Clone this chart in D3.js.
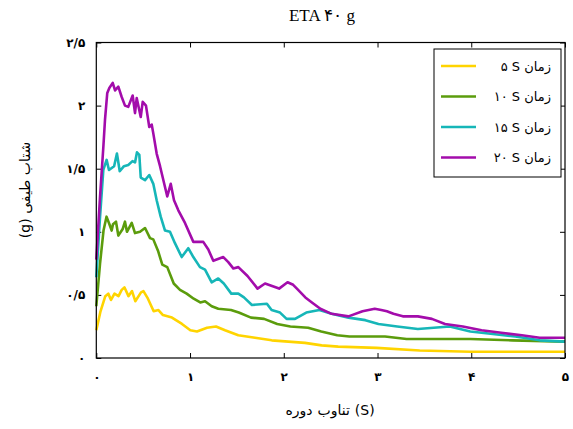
<!DOCTYPE html>
<meta charset="utf-8">
<script src="https://d3js.org/d3.v7.min.js"></script>
<style>
  body { margin: 0; background: #fff; }
  svg { font-family: 'Liberation Serif', 'DejaVu Sans', serif; }
</style>
<div id="chart"></div>
<script>
// period (s) and spectral acceleration (g)
var t5  = [0, 0.045, 0.096, 0.128, 0.157, 0.194, 0.237, 0.271, 0.30, 0.343, 0.381, 0.416, 0.477, 0.503, 0.551, 0.612, 0.663, 0.711, 0.807, 0.914, 1.003, 1.074, 1.181, 1.277, 1.373, 1.515, 1.693, 1.871, 2.048, 2.226, 2.404, 2.581, 2.99, 3.45, 3.99, 5.0];
var sa5 = [0.22, 0.37, 0.49, 0.51, 0.46, 0.51, 0.49, 0.54, 0.56, 0.49, 0.53, 0.45, 0.52, 0.53, 0.47, 0.37, 0.38, 0.34, 0.32, 0.27, 0.22, 0.21, 0.24, 0.25, 0.22, 0.18, 0.16, 0.14, 0.13, 0.12, 0.10, 0.09, 0.08, 0.06, 0.05, 0.05];

var t10  = [0, 0.04, 0.077, 0.109, 0.135, 0.164, 0.178, 0.21, 0.235, 0.28, 0.306, 0.327, 0.378, 0.413, 0.466, 0.52, 0.573, 0.608, 0.658, 0.704, 0.757, 0.826, 0.893, 0.964, 1.039, 1.109, 1.16, 1.231, 1.301, 1.437, 1.52, 1.65, 1.79, 1.93, 2.07, 2.26, 2.40, 2.57, 2.70, 2.87, 3.08, 3.31, 3.99, 4.44, 5.0];
var sa10 = [0.41, 0.75, 1.01, 1.12, 1.07, 1.01, 1.06, 1.08, 0.97, 1.02, 1.08, 1.00, 1.07, 0.99, 1.00, 1.03, 0.95, 0.94, 0.85, 0.74, 0.72, 0.59, 0.54, 0.51, 0.47, 0.44, 0.45, 0.41, 0.39, 0.38, 0.36, 0.32, 0.31, 0.27, 0.25, 0.24, 0.21, 0.18, 0.17, 0.17, 0.17, 0.15, 0.15, 0.14, 0.13];

var t15  = [0, 0.04, 0.075, 0.11, 0.135, 0.19, 0.22, 0.25, 0.295, 0.341, 0.386, 0.413, 0.434, 0.459, 0.474, 0.52, 0.565, 0.608, 0.644, 0.687, 0.733, 0.786, 0.839, 0.911, 0.981, 1.035, 1.106, 1.16, 1.231, 1.301, 1.36, 1.44, 1.515, 1.575, 1.66, 1.82, 1.87, 1.96, 2.03, 2.12, 2.24, 2.38, 2.51, 2.69, 2.87, 3.01, 3.21, 3.43, 3.60, 3.77, 3.99, 4.23, 4.47, 4.73, 5.0];
var sa15 = [0.64, 1.12, 1.49, 1.57, 1.49, 1.52, 1.62, 1.48, 1.52, 1.53, 1.56, 1.55, 1.63, 1.61, 1.43, 1.41, 1.45, 1.38, 1.25, 1.12, 1.01, 1.00, 0.91, 0.80, 0.87, 0.80, 0.72, 0.70, 0.60, 0.63, 0.59, 0.51, 0.51, 0.48, 0.42, 0.43, 0.38, 0.36, 0.31, 0.31, 0.36, 0.38, 0.35, 0.32, 0.30, 0.27, 0.25, 0.23, 0.24, 0.25, 0.21, 0.19, 0.17, 0.14, 0.13];

var t20  = [0, 0.04, 0.075, 0.093, 0.117, 0.139, 0.175, 0.20, 0.235, 0.27, 0.306, 0.341, 0.388, 0.413, 0.431, 0.474, 0.495, 0.53, 0.565, 0.591, 0.608, 0.644, 0.68, 0.715, 0.757, 0.794, 0.829, 0.875, 0.946, 1.035, 1.141, 1.195, 1.248, 1.355, 1.408, 1.461, 1.515, 1.613, 1.72, 1.80, 1.95, 2.04, 2.10, 2.14, 2.23, 2.30, 2.39, 2.51, 2.69, 2.84, 2.97, 3.04, 3.10, 3.17, 3.27, 3.43, 3.58, 3.72, 3.91, 4.11, 4.32, 4.54, 4.73, 5.0];
var sa20 = [0.78, 1.28, 1.67, 1.89, 2.10, 2.14, 2.18, 2.12, 2.15, 2.07, 2.00, 1.99, 2.08, 1.94, 2.06, 1.91, 2.03, 2.00, 1.83, 1.85, 1.78, 1.62, 1.52, 1.41, 1.28, 1.38, 1.25, 1.17, 1.07, 0.92, 0.92, 0.86, 0.77, 0.80, 0.76, 0.71, 0.72, 0.65, 0.55, 0.59, 0.55, 0.60, 0.58, 0.55, 0.48, 0.44, 0.39, 0.35, 0.33, 0.37, 0.39, 0.38, 0.37, 0.35, 0.33, 0.33, 0.31, 0.27, 0.25, 0.22, 0.20, 0.18, 0.16, 0.16];

var seriesNames = ["۵ S  زمان", "۱۰ S  زمان", "۱۵ S زمان", "۲۰ S زمان"];
var seriesColors = ["#ffd400", "#5b9c0c", "#16b6b8", "#a30cab"];
var xTicks = [0, 1, 2, 3, 4, 5];
var yTicks = [0, 0.5, 1, 1.5, 2, 2.5];
var xLabelWords = ["دوره", "تناوب", "(S)"]; // laid out left to right as in the picture

var series = [
  { name: seriesNames[0], color: seriesColors[0], t: t5,  sa: sa5 },
  { name: seriesNames[1], color: seriesColors[1], t: t10, sa: sa10 },
  { name: seriesNames[2], color: seriesColors[2], t: t15, sa: sa15 },
  { name: seriesNames[3], color: seriesColors[3], t: t20, sa: sa20 }
];

var margin = { top: 42.5, right: 8, bottom: 71, left: 96.3 },
    width = 573 - margin.left - margin.right,
    height = 429 - margin.top - margin.bottom;

// western digits -> persian digits, "." -> "/"
function fa(v) {
  return String(v).replace(/[0-9]/g, function (d) { return "۰۱۲۳۴۵۶۷۸۹"[d]; }).replace(".", "/");
}

var svg = d3.select("#chart")
    .append("svg")
    .attr("width", 573)
    .attr("height", 429);

var g = svg.append("g")
    .attr("transform", "translate(" + margin.left + "," + margin.top + ")");

var x = d3.scaleLinear().domain([0, 5]).range([0, width]);
var y = d3.scaleLinear().domain([0, 2.5]).range([height, 0]);

// axes with ticks pointing inwards, mirrored on top and right
g.append("g")
    .attr("transform", "translate(0," + height + ")")
    .call(d3.axisBottom(x).tickValues(xTicks).tickSizeInner(-5).tickSizeOuter(0).tickPadding(14).tickFormat(fa))
    .call(function (a) { a.select(".domain").remove(); });
g.append("g")
    .call(d3.axisTop(x).tickValues(xTicks).tickSizeInner(-5).tickSizeOuter(0).tickFormat(""))
    .call(function (a) { a.select(".domain").remove(); });
g.append("g")
    .call(d3.axisLeft(y).tickValues(yTicks).tickSizeInner(-5).tickSizeOuter(0).tickPadding(11).tickFormat(fa))
    .call(function (a) { a.select(".domain").remove(); });
g.append("g")
    .attr("transform", "translate(" + width + ",0)")
    .call(d3.axisRight(y).tickValues(yTicks).tickSizeInner(-5).tickSizeOuter(0).tickFormat(""))
    .call(function (a) { a.select(".domain").remove(); });

g.selectAll(".tick text")
    .attr("font-family", "'DejaVu Sans', sans-serif")
    .attr("font-size", 12)
    .attr("font-weight", "bold")
    .attr("fill", "#000");
g.selectAll(".tick line").attr("stroke", "#000");

var line = d3.line()
    .x(function (d) { return x(d[0]); })
    .y(function (d) { return y(d[1]); });

g.selectAll(".series")
    .data(series)
    .enter()
    .append("path")
    .attr("class", "series")
    .attr("fill", "none")
    .attr("stroke", function (d) { return d.color; })
    .attr("stroke-width", 2.6)
    .attr("stroke-linejoin", "round")
    .attr("d", function (d) { return line(d.t.map(function (t, i) { return [t, d.sa[i]]; })); });

g.append("rect")
    .attr("width", width)
    .attr("height", height)
    .attr("fill", "none")
    .attr("stroke", "#000")
    .attr("stroke-width", 1.2);

// legend
var lg = svg.append("g").attr("transform", "translate(434,49)");
lg.append("rect")
    .attr("width", 127)
    .attr("height", 128)
    .attr("fill", "#fff")
    .attr("stroke", "#000")
    .attr("stroke-width", 1);
var items = lg.selectAll(".item")
    .data(series)
    .enter()
    .append("g")
    .attr("transform", function (d, i) { return "translate(0," + (17 + i * 30.5) + ")"; });
items.append("line")
    .attr("x1", 7).attr("x2", 42)
    .attr("stroke", function (d) { return d.color; })
    .attr("stroke-width", 2.6);
items.append("text")
    .attr("x", 117)
    .attr("dy", "0.35em")
    .attr("text-anchor", "end")
    .attr("font-family", "'DejaVu Sans', sans-serif")
    .attr("font-size", 13)
    .text(function (d) { return d.name; });

// title and axis labels
svg.append("text")
    .attr("x", 322)
    .attr("y", 21)
    .attr("text-anchor", "middle")
    .attr("font-size", 17)
    .text("ETA ۴۰ g");

// x label: each word its own text so the word order stays as drawn
var xl = svg.append("g");
var words = xl.selectAll("text")
    .data(xLabelWords)
    .enter()
    .append("text")
    .attr("y", 415)
    .attr("font-family", "'DejaVu Sans', sans-serif")
    .attr("font-size", 14)
    .text(function (d) { return d; });
var gap = 5, widths = [], total = 0;
words.each(function () { var w = this.getComputedTextLength(); widths.push(w); total += w; });
total += gap * (xLabelWords.length - 1);
var cx = 330 - total / 2;
words.attr("x", function (d, i) { var p = cx; cx += widths[i] + gap; return p; });

svg.append("text")
    .attr("transform", "translate(30,190) rotate(-90)")
    .attr("text-anchor", "middle")
    .attr("direction", "rtl")
    .attr("font-family", "'DejaVu Sans', sans-serif")
    .attr("font-size", 14)
    .text("شتاب طیفی (g)");
</script>
